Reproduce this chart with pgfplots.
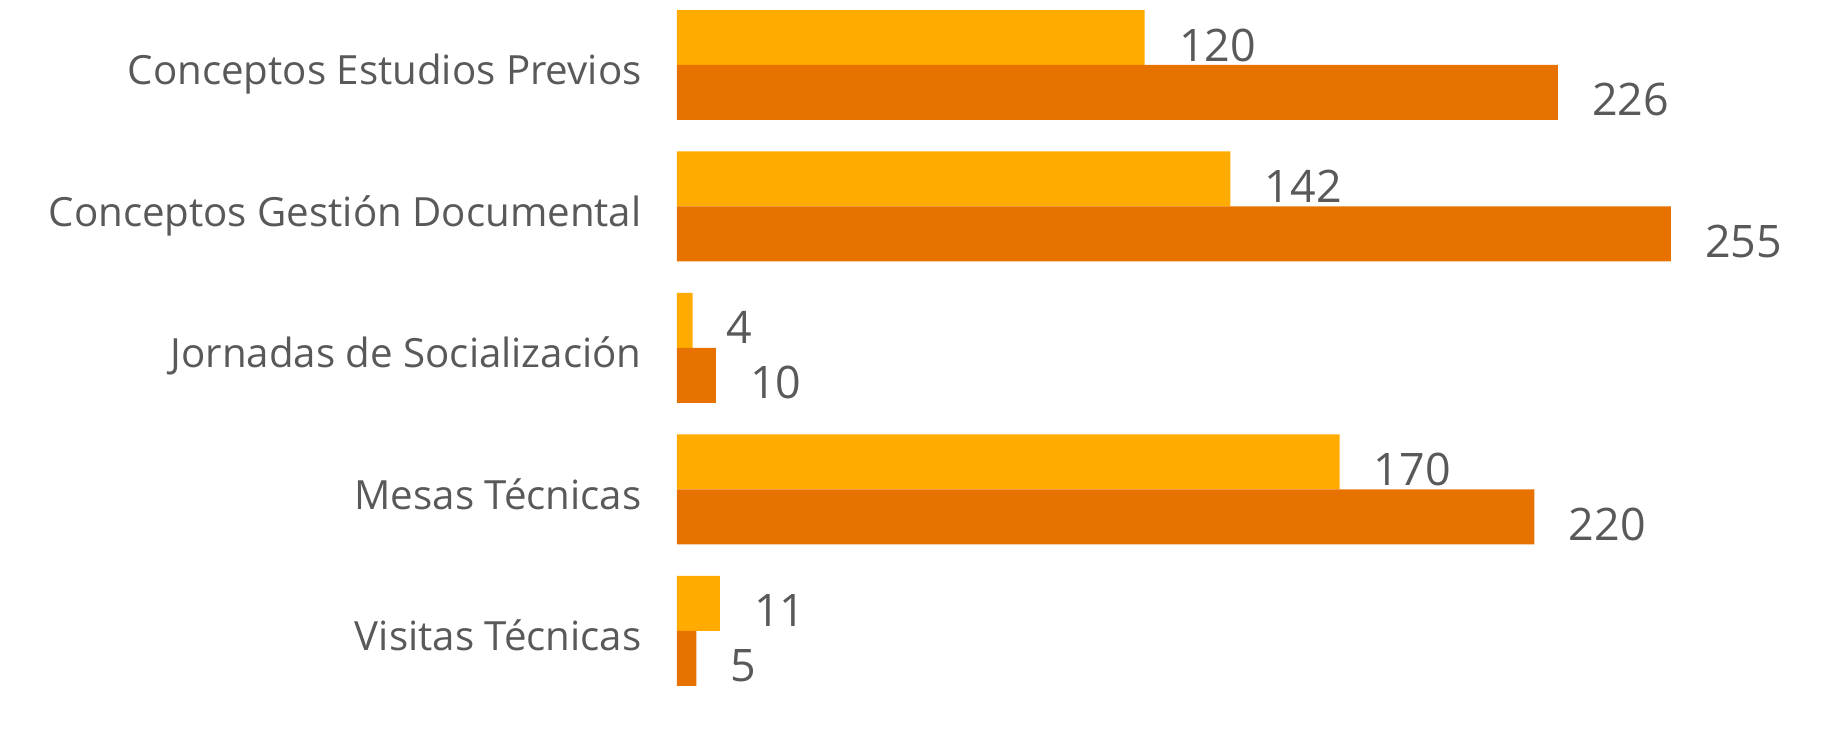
\documentclass[border=0pt]{standalone}
\usepackage{fontspec}
\setmainfont{Open Sans}
\usepackage{pgfplots}
\pgfplotsset{compat=1.18}
\definecolor{amarillo}{RGB}{255,171,0}
\definecolor{naranja}{RGB}{232,114,0}
\definecolor{texto}{RGB}{89,89,89}
\begin{document}
\begin{tikzpicture}
\begin{axis}[
  name=ax,
  scale only axis,
  width=574bp, height=364.5bp,
  xbar, bar width=27.5bp,
  xmin=0, xmax=294.5,
  ymin=-0.4594, ymax=4.6926,
  y dir=reverse,
  axis line style={draw=none},
  xtick=\empty,
  ytick={0,1,2,3,4},
  yticklabels={Conceptos Estudios Previos, Conceptos Gestión Documental, Jornadas de Socialización, Mesas Técnicas, Visitas Técnicas},
  major tick length=0pt,
  yticklabel style={anchor=base east, inner sep=0pt, xshift=-17.5bp, yshift=-10bp,
    font=\fontsize{20.2}{20.2}\selectfont, text=texto},
  nodes near coords,
  nodes near coords style={anchor=base west, inner sep=0pt, xshift=17bp, yshift=-11.75bp,
    font=\fontsize{22.5}{22.5}\selectfont, text=texto},
  /pgf/number format/assume math mode=true,
  clip=false,
]
\addplot[fill=amarillo, draw=none, bar shift=13.75bp] coordinates {(120,0) (142,1) (4,2) (170,3) (11,4)};
\addplot[fill=naranja, draw=none, bar shift=-13.75bp] coordinates {(226,0) (255,1) (10,2) (220,3) (5,4)};
\end{axis}
\path ([xshift=-338.5bp]ax.south west) rectangle (ax.north east);
\end{tikzpicture}
\end{document}
